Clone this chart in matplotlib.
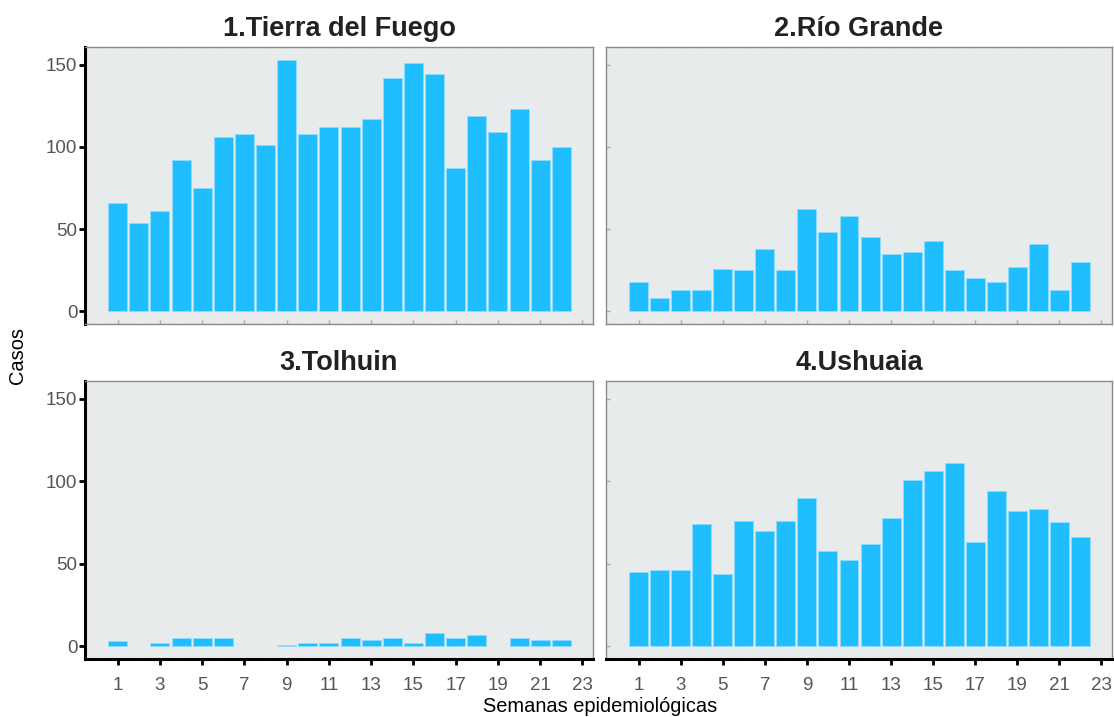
import matplotlib
matplotlib.use("Agg")
import matplotlib.pyplot as plt
import numpy as np

plt.rcParams['font.family'] = ['Liberation Sans', 'DejaVu Sans']

weeks = list(range(1, 23))
titles = ["1.Tierra del Fuego", "2.Río Grande", "3.Tolhuin", "4.Ushuaia"]
tierra_del_fuego = [66, 54, 61, 92, 75, 106, 108, 101, 153, 108, 112, 112, 117, 142, 151, 144, 87, 119, 109, 123, 92, 100]
rio_grande = [18, 8, 13, 13, 26, 25, 38, 25, 62, 48, 58, 45, 35, 36, 43, 25, 20, 18, 27, 41, 13, 30]
tolhuin = [3, 0, 2, 5, 5, 5, 0, 0, 1, 2, 2, 5, 4, 5, 2, 8, 5, 7, 0, 5, 4, 4]
ushuaia = [45, 46, 46, 74, 44, 76, 70, 76, 90, 58, 52, 62, 78, 101, 106, 111, 63, 94, 82, 83, 75, 66]
series = [tierra_del_fuego, rio_grande, tolhuin, ushuaia]
xticks = list(range(1, 24, 2))
yticks = [0, 50, 100, 150]

W, H = 1114, 717
fig = plt.figure(figsize=(W / 100, H / 100), dpi=100)

boxes = [(85, 47, 593, 324), (606, 47, 1112, 324),
         (85, 381, 593, 659), (606, 381, 1112, 659)]

bar_color = '#1FBFFF'
bg = '#E8EBEC'
grid_c = '#ECEFF0'

for i, (x0, y0, x1, y1) in enumerate(boxes):
    ax = fig.add_axes([x0 / W, 1 - y1 / H, (x1 - x0) / W, (y1 - y0) / H])
    ax.set_facecolor(bg)
    vals = [v if v > 0 else np.nan for v in series[i]]
    ax.bar(weeks, vals, width=0.9, color=bar_color, edgecolor='#8FDCFF',
           linewidth=0.6, zorder=3)
    ax.set_xlim(-0.55, 23.5)
    ax.set_ylim(-7.65, 160.65)
    ax.set_xticks(xticks)
    ax.set_xticks(range(0, 24, 2), minor=True)
    ax.set_yticks(yticks)
    ax.set_yticks([25, 75, 125], minor=True)
    ax.grid(True, which='both', color=grid_c, linewidth=1.0, zorder=1)
    ax.set_axisbelow(True)
    for s in ax.spines.values():
        s.set_color('#8A8A8A')
        s.set_linewidth(1.0)
    left = i in (0, 2)
    bottom = i in (2, 3)
    ax.tick_params(which='minor', length=0)
    if left:
        ax.spines['left'].set_color('black')
        ax.spines['left'].set_linewidth(2.2)
        ax.tick_params(axis='y', which='major', length=4, width=2, color='black',
                       labelsize=13.5, labelcolor='#555555', pad=1.5)
    else:
        ax.tick_params(axis='y', which='major', length=3, width=1, color='#AAAAAA',
                       direction='in', labelleft=False)
    if bottom:
        ax.spines['bottom'].set_color('black')
        ax.spines['bottom'].set_linewidth(2.2)
        ax.tick_params(axis='x', which='major', length=4, width=2, color='black',
                       labelsize=13.5, labelcolor='#555555', pad=9)
    else:
        ax.tick_params(axis='x', which='major', length=3, width=1, color='#AAAAAA',
                       direction='in', labelbottom=False)
    ax.set_title(titles[i], fontsize=19.5, fontweight='bold', color='#222222', pad=8)

fig.text(18 / W, 1 - 355 / H, 'Casos', rotation=90, ha='center', va='center',
         fontsize=14.4, color='black')
fig.text(600 / W, 1 - 707 / H, 'Semanas epidemiológicas', ha='center', va='center',
         fontsize=14.4, color='black')

fig.savefig('out.png', dpi=100)
